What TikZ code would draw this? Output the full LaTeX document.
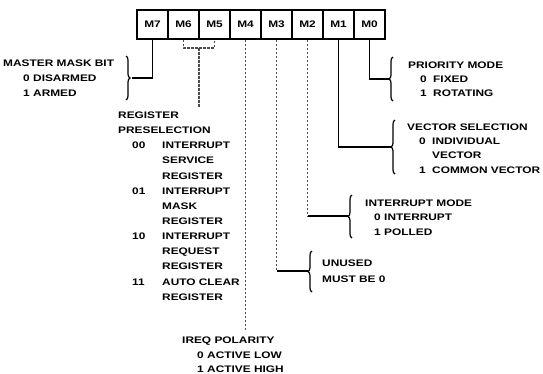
\documentclass[tikz,border=0pt]{standalone}
\usepackage{fontspec}
\newfontfamily\lblfont{Liberation Sans}[FakeStretch=1.25]
\usetikzlibrary{decorations.pathreplacing}
\tikzset{
  lbl/.style={font={\lblfont\bfseries\fontsize{9.5}{10}\selectfont}, anchor=west, inner sep=0pt, text height=6.8pt, text depth=0pt},
  bitbox/.style={draw, line width=1.5pt, minimum width=31pt, minimum height=29pt, inner sep=0pt, font={\lblfont\bfseries\fontsize{9.5}{10}\selectfont}},
  conn/.style={line width=1.2pt},
  faint/.style={line width=1.1pt, black!70, dash pattern=on 2.5pt off 1.5pt},
  brc/.style={line width=1.2pt, decorate, decoration={brace, amplitude=4pt}}
}
\begin{document}
\begin{tikzpicture}[x=1pt, y=-1pt]
\useasboundingbox (0,0) rectangle (543,373);
\fill[white] (0,0) rectangle (543,373);
% bit boxes
\node[bitbox] (m7) at (152.5,24.5) {M7};
\node[bitbox] (m6) at (183.5,24.5) {M6};
\node[bitbox] (m5) at (214.5,24.5) {M5};
\node[bitbox] (m4) at (245.5,24.5) {M4};
\node[bitbox] (m3) at (276.5,24.5) {M3};
\node[bitbox] (m2) at (307.5,24.5) {M2};
\node[bitbox] (m1) at (338.5,24.5) {M1};
\node[bitbox] (m0) at (369.5,24.5) {M0};

% master mask bit
\node[lbl] (mmb) at (3,63) {MASTER MASK BIT};
\node[lbl] (mm0d) at (23,78) {0};
\node[lbl] (mm0) at (33,78) {DISARMED};
\node[lbl] (mm1d) at (23,93) {1};
\node[lbl] (mm1) at (33,93) {ARMED};
\draw[brc] (126,56) -- (126,100);
\coordinate (c7) at (132,78);
\draw[conn] (m7.south) |- (c7);

% register preselection
\node[lbl] (rp1) at (118,115) {REGISTER};
\node[lbl] (rp2) at (118,130.2) {PRESELECTION};
\node[lbl] (rp00) at (132,145.3) {00};
\node[lbl] (rp3) at (162,145.3) {INTERRUPT};
\node[lbl] (rp4) at (162,160.5) {SERVICE};
\node[lbl] (rp5) at (162,175.6) {REGISTER};
\node[lbl] (rp01) at (132,190.8) {01};
\node[lbl] (rp6) at (162,190.8) {INTERRUPT};
\node[lbl] (rp7) at (162,205.9) {MASK};
\node[lbl] (rp8) at (162,221.1) {REGISTER};
\node[lbl] (rp10) at (132,236.2) {10};
\node[lbl] (rp9) at (162,236.2) {INTERRUPT};
\node[lbl] (rp11a) at (162,251.4) {REQUEST};
\node[lbl] (rp12) at (162,266.5) {REGISTER};
\node[lbl] (rp11) at (132,281.7) {11};
\node[lbl] (rp13) at (162,281.7) {AUTO CLEAR};
\node[lbl] (rp14) at (162,296.8) {REGISTER};
\coordinate (rpj) at (199,48);
\coordinate (rpe) at (199,107);
\draw[faint] (m6.south) |- (rpj) -| (m5.south);
\draw[faint] (rpj) -- (rpe);

% IREQ polarity
\node[lbl] (ip) at (182,340) {IREQ POLARITY};
\node[lbl] (ip0d) at (197,355) {0};
\node[lbl] (ip0) at (207,355) {ACTIVE LOW};
\node[lbl] (ip1d) at (197,369) {1};
\node[lbl] (ip1) at (207,369) {ACTIVE HIGH};
\coordinate (c4) at (245.5,330);
\draw[faint] (m4.south) -- (c4);

% unused
\node[lbl] (un1) at (322,263) {UNUSED};
\node[lbl] (un2) at (322,279) {MUST BE 0};
\draw[brc] (312,292) -- (312,251);
\coordinate (k3) at (276.5,271);
\coordinate (c3) at (308,271);
\draw[faint] (m3.south) -- (k3);
\draw[conn] (k3) -- (c3);

% interrupt mode
\node[lbl] (im) at (365,203) {INTERRUPT MODE};
\node[lbl] (im0d) at (374,217) {0};
\node[lbl] (im0) at (384,217) {INTERRUPT};
\node[lbl] (im1d) at (374,232) {1};
\node[lbl] (im1) at (384,232) {POLLED};
\draw[brc] (352,238) -- (352,195);
\coordinate (k2) at (307.5,216);
\coordinate (c2) at (348,216);
\draw[faint] (m2.south) -- (k2);
\draw[conn] (k2) -- (c2);

% vector selection
\node[lbl] (vs) at (407,127) {VECTOR SELECTION};
\node[lbl] (vs0d) at (419,141) {0};
\node[lbl] (vs0) at (432,141) {INDIVIDUAL};
\node[lbl] (vs0b) at (432,155) {VECTOR};
\node[lbl] (vs1d) at (419,170) {1};
\node[lbl] (vs1) at (432,170) {COMMON VECTOR};
\draw[brc] (395,174) -- (395,120);
\coordinate (c1) at (391,147);
\draw[conn] (m1.south) |- (c1);

% priority mode
\node[lbl] (pm) at (408,65) {PRIORITY MODE};
\node[lbl] (pm0d) at (420,79) {0};
\node[lbl] (pm0) at (433,79) {FIXED};
\node[lbl] (pm1d) at (420,93) {1};
\node[lbl] (pm1) at (433,93) {ROTATING};
\draw[brc] (393,101) -- (393,57);
\coordinate (c0) at (389,79);
\draw[conn] (m0.south) |- (c0);
\end{tikzpicture}
\end{document}
